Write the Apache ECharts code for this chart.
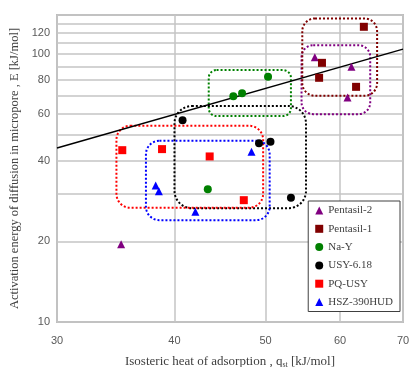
<!DOCTYPE html>
<html><head><meta charset="utf-8">
<script src="https://cdn.jsdelivr.net/npm/echarts@6/dist/echarts.min.js"></script>
<style>html,body{margin:0;padding:0;background:#fff}#c{width:414px;height:367px}</style>
</head><body><div id="c"></div>
<script>
// ---- data ----
const seriesNames = ['Pentasil-2', 'Pentasil-1', 'Na-Y', 'USY-6.18', 'PQ-USY', 'HSZ-390HUD'];
const pentasil2 = [[56.4, 97.4], [61.7, 89.7], [61.1, 68.9], [35.1, 19.5]];
const pentasil1 = [[63.6, 126.5], [57.4, 92.8], [57.0, 81.6], [62.4, 75.5]];
const naY = [[50.3, 82.3], [46.2, 69.7], [47.2, 71.5], [43.4, 31.3]];
const usy618 = [[40.8, 56.6], [49.2, 46.5], [50.6, 47.1], [53.2, 29.1]];
const pqUsy = [[35.2, 43.8], [38.8, 44.2], [43.6, 41.5], [47.4, 28.5]];
const hsz390 = [[48.3, 43.2], [38.2, 32.3], [38.5, 30.8], [42.1, 25.8]];
const fitLine = [[30, 44.6], [70, 104.4]];
const xTicks = [30, 40, 50, 60, 70];
const yGrid = [10, 20, 30, 40, 50, 60, 70, 80, 90, 100, 110, 120, 130, 140];
const yLabels = [10, 20, 40, 60, 80, 100, 120];
// group boxes: [xMin, xMax, yMin, yMax]
const groupBoxes = [
  [54.6, 64.6, 59.7, 108.0],  // Pentasil-2
  [54.7, 65.7, 69.9, 135.9],  // Pentasil-1
  [43.5, 53.2, 58.7, 87.2],   // Na-Y
  [40.0, 55.2, 26.6, 64.0],   // USY-6.18
  [34.7, 49.7, 26.7, 54.0],   // PQ-USY
  [37.3, 50.5, 24.0, 47.5]    // HSZ-390HUD
];

const colors = ['#800080', '#800000', '#008000', '#000000', '#ff0000', '#0000ff'];
const symbols = ['triangle', 'rect', 'circle', 'circle', 'rect', 'triangle'];
const sizes = [8, 8, 8, 8, 8, 8];
const allData = [pentasil2, pentasil1, naY, usy618, pqUsy, hsz390];

const chart = echarts.init(document.getElementById('c'), null, {renderer: 'canvas'});
const labelFont = {color: '#595959', fontFamily: 'Liberation Sans', fontSize: 11};
const gridLine = {show: true, lineStyle: {color: '#c4c4c4', width: 1.5}};

const series = [];
series.push({
  type: 'custom', name: 'boxes', z: 1, silent: true,
  data: groupBoxes, encode: {x: [0, 1], y: [2, 3]},
  renderItem: function (params, api) {
    const p0 = api.coord([api.value(0), api.value(3)]);
    const p1 = api.coord([api.value(1), api.value(2)]);
    const w = p1[0] - p0[0], h = p1[1] - p0[1];
    return {
      type: 'rect',
      shape: {x: p0[0], y: p0[1], width: w, height: h, r: Math.min(w, h) * 0.17},
      style: {fill: 'none', stroke: colors[params.dataIndex], lineWidth: 2, lineDash: [2, 2]}
    };
  }
});
series.push({
  type: 'line', name: 'fit', data: fitLine, showSymbol: false, symbol: 'none', z: 2, silent: true,
  lineStyle: {color: '#000', width: 1.5}
});
seriesNames.forEach(function (n, i) {
  series.push({
    type: 'scatter', name: n, data: allData[i], symbol: symbols[i], symbolSize: sizes[i], z: 3,
    itemStyle: {color: colors[i], opacity: 1}
  });
});

chart.setOption({
  animation: false,
  backgroundColor: '#fff',
  grid: {left: 57, right: 11, top: 15, bottom: 45, show: true, borderColor: '#bdbdbd', borderWidth: 2,
    containLabel: false, outerBoundsMode: 'none'},
  xAxis: {
    type: 'log', logBase: 10, min: 30, max: 70,
    axisLine: {show: false}, axisTick: {show: false, customValues: xTicks},
    axisLabel: Object.assign({customValues: xTicks, margin: 13}, labelFont),
    splitLine: gridLine,
    name: 'Isosteric heat of adsorption , q{sub|st} [kJ/mol]', nameLocation: 'middle', nameGap: 33,
    nameTextStyle: {color: '#404040', fontFamily: 'Liberation Serif', fontSize: 13,
      rich: {sub: {fontSize: 8, verticalAlign: 'bottom', padding: [6, 0, 0, 0], fontFamily: 'Liberation Serif', color: '#404040'}}}
  },
  yAxis: {
    type: 'log', logBase: 10, min: 10, max: 140,
    axisLine: {show: false}, axisTick: {show: false, customValues: yGrid},
    axisLabel: Object.assign({customValues: yLabels, margin: 7}, labelFont),
    splitLine: gridLine,
    name: 'Activation energy of diffusion in micropore , E [kJ/mol]', nameLocation: 'middle', nameGap: 36,
    nameTextStyle: {color: '#404040', fontFamily: 'Liberation Serif', fontSize: 12.5}
  },
  legend: {
    data: seriesNames, orient: 'vertical', right: 14, top: 201,
    backgroundColor: '#fff', borderColor: '#404040', borderWidth: 1, borderRadius: 0,
    padding: [4, 7, 4, 7], itemWidth: 8, itemHeight: 8, itemGap: 7.3,
    textStyle: {fontFamily: 'Liberation Serif', fontSize: 11, color: '#404040', padding: [3, 0, 0, 0]}
  },
  series: series
});
</script></body></html>
